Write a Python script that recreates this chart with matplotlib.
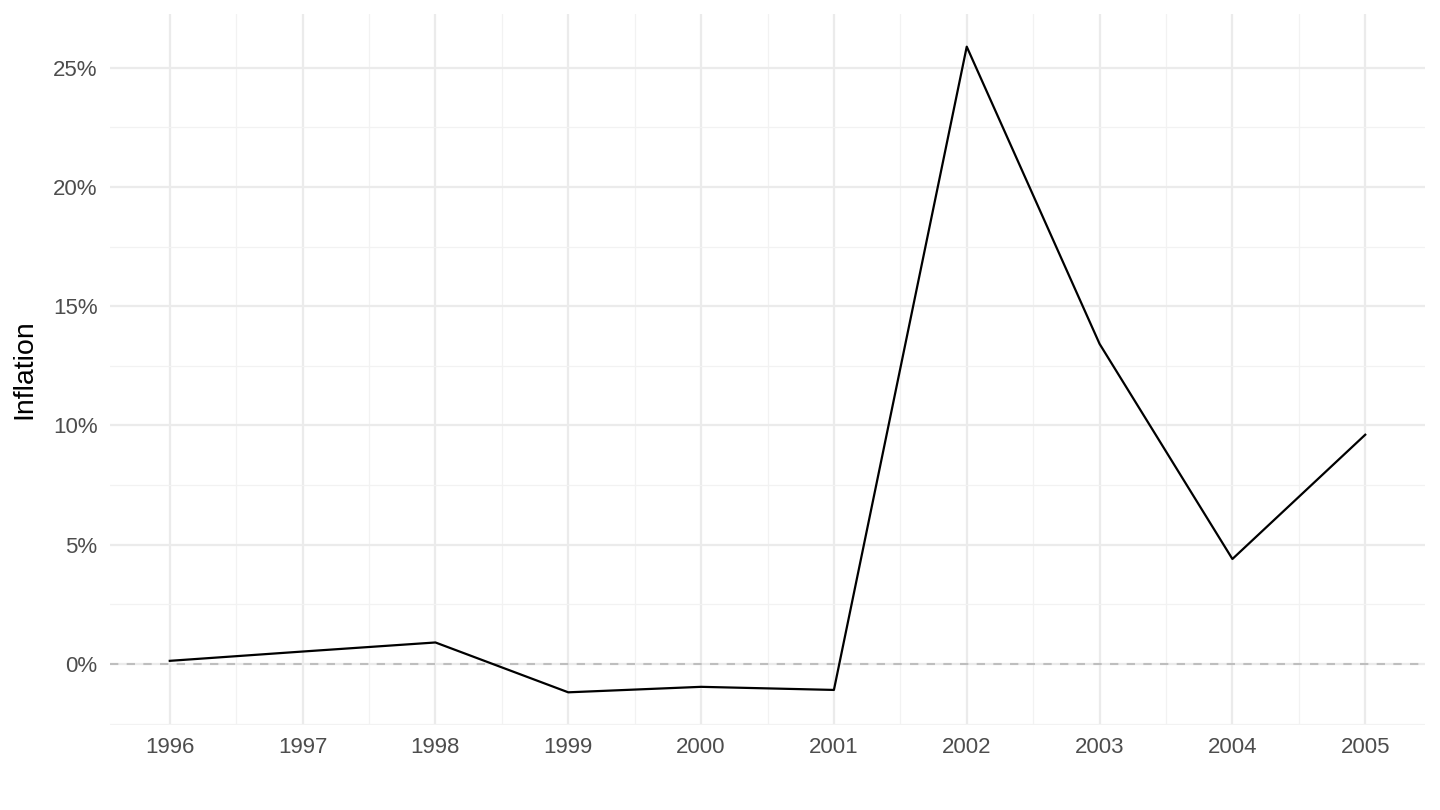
import numpy as np
import matplotlib
matplotlib.use('Agg')
import matplotlib.pyplot as plt
from matplotlib.ticker import MultipleLocator, FuncFormatter

years = [1996, 1997, 1998, 1999, 2000, 2001, 2002, 2003, 2004, 2005]
inflation = [0.13, 0.52, 0.90, -1.19, -0.96, -1.09, 25.88, 13.42, 4.40, 9.61]

plt.rcParams['font.family'] = ['Liberation Sans', 'DejaVu Sans']

fig = plt.figure(figsize=(14.4, 8.1), dpi=100)
ax = fig.add_axes([110/1440, 85.4/810, 1315/1440, (724.6-14.4)/810])

# ggplot-like expansion of 5%
yr = max(inflation) - min(inflation)
ax.set_ylim(min(inflation) - 0.05*yr, max(inflation) + 0.05*yr)
ax.set_xlim(years[0] - 0.05*(years[-1]-years[0]), years[-1] + 0.05*(years[-1]-years[0]))

ax.xaxis.set_major_locator(MultipleLocator(1))
ax.xaxis.set_minor_locator(MultipleLocator(0.5))
ax.yaxis.set_major_locator(MultipleLocator(5))
ax.yaxis.set_minor_locator(MultipleLocator(2.5))
ax.xaxis.set_major_formatter(FuncFormatter(lambda v, p: f"{int(round(v))}"))
ax.yaxis.set_major_formatter(FuncFormatter(lambda v, p: f"{v:.0f}%"))

ax.grid(which='major', color='#EBEBEB', linewidth=1.6)
ax.grid(which='minor', color='#F2F2F2', linewidth=0.9)
ax.set_axisbelow(True)

ax.axhline(0, color='#BEBEBE', linewidth=1.5, linestyle=(0, (4, 4)), zorder=2)
ax.plot(years, inflation, color='black', linewidth=1.6, zorder=3)

for s in ax.spines.values():
    s.set_visible(False)
ax.tick_params(which='both', length=0)
ax.tick_params(axis='both', labelsize=16, labelcolor='#4D4D4D', pad=9)
ax.set_ylabel('Inflation', fontsize=20.5, color='black', labelpad=11)

fig.savefig('out.png', dpi=100)
